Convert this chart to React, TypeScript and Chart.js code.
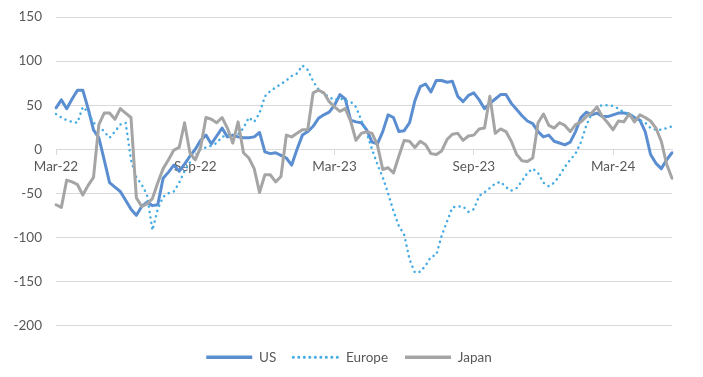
import React, { useEffect, useRef } from 'react';
import { Chart, registerables } from 'chart.js';

Chart.register(...registerables);

const tickLabels = ['Mar-22', 'Sep-22', 'Mar-23', 'Sep-23', 'Mar-24'];
const weeksPerTick = 26;

const us = [
  47, 56, 46, 57, 67, 67, 46, 22, 13, -12,
  -38, -43, -48, -58, -68, -75, -65, -60, -64, -63,
  -33, -26, -18, -25, -17, -8, 0, 10, 16, 6,
  15, 24, 14, 16, 14, 13, 13, 14, 19, -3,
  -5, -4, -7, -10, -18, 0, 16, 20, 26, 35,
  39, 42, 50, 62, 57, 33, 31, 30, 22, 8,
  6, 20, 39, 36, 20, 21, 30, 55, 71, 74,
  65, 78, 78, 76, 77, 60, 54, 61, 64, 56,
  46, 52, 57, 62, 62, 52, 45, 38, 32, 29,
  20, 14, 16, 9, 7, 5, 8, 20, 36, 42,
  39, 41, 37, 37, 39, 41, 41, 40, 36, 33,
  20, -6, -16, -22, -12, -4,
];

const europe = [
  40, 36, 33, 31, 30, 48, 42, 30, 26, 20,
  13, 20, 28, 30, -12, -32, -40, -52, -92, -68,
  -54, -50, -48, -38, -25, -15, -8, 0, 2, 4,
  7, 14, 16, 14, 17, 24, 36, 31, 41, 60,
  66, 70, 74, 78, 83, 86, 95, 90, 77, 68,
  63, 59, 56, 58, 55, 54, 48, 33, 18, 0,
  -17, -32, -50, -70, -87, -97, -125, -140, -139, -132,
  -122, -120, -98, -82, -66, -65, -65, -71, -68, -53,
  -49, -44, -39, -37, -43, -47, -44, -36, -27, -22,
  -27, -38, -42, -38, -30, -20, -12, -5, 8, 27,
  40, 48, 50, 50, 49, 46, 42, 40, 36, 33,
  30, 24, 22, 22, 24, 26,
];

const japan = [
  -63, -66, -35, -37, -40, -52, -41, -32, 28, 41,
  41, 34, 46, 41, 36, -55, -65, -62, -56, -38,
  -22, -12, -1, 2, 30, -4, -12, 2, 36, 34,
  30, 36, 24, 7, 31, -4, -10, -22, -49, -29,
  -29, -37, -31, 16, 14, 18, 22, 22, 64, 67,
  64, 54, 48, 43, 46, 32, 10, 18, 20, 18,
  5, -23, -21, -27, -8, 10, 9, 2, 9, 5,
  -5, -6, -2, 11, 17, 18, 10, 15, 16, 23,
  24, 60, 18, 23, 20, 9, -6, -13, -14, -10,
  30, 40, 27, 24, 30, 27, 20, 28, 31, 37,
  41, 48, 37, 30, 22, 32, 31, 40, 31, 39,
  36, 32, 24, 9, -17, -33,
];

const labels = us.map((_, i) =>
  i % weeksPerTick === 0 ? tickLabels[i / weeksPerTick] ?? '' : ''
);

const textColor = '#595959';
const gridColor = '#d9d9d9';
const font = { family: "Lato, 'Open Sans', sans-serif", size: 13.5 };

const legendShift = {
  id: 'legendShift',
  afterLayout(chart: any) {
    const lg = chart.legend;
    if (lg) {
      lg.left += 13;
      lg.right += 13;
    }
  },
};

export default function App() {
  const canvasRef = useRef<HTMLCanvasElement | null>(null);

  useEffect(() => {
    const canvas = canvasRef.current;
    if (!canvas) return;
    const chart = new Chart(canvas, {
      type: 'line',
      data: {
        labels,
        datasets: [
          {
            label: 'US',
            data: us,
            borderColor: '#5B8ED0',
            backgroundColor: '#5B8ED0',
            borderWidth: 3,
            pointRadius: 0,
            tension: 0,
            borderJoinStyle: 'round',
            borderCapStyle: 'round',
            order: 3,
          },
          {
            label: 'Europe',
            data: europe,
            borderColor: '#45ABE4',
            backgroundColor: '#45ABE4',
            borderWidth: 2.5,
            borderDash: [0.1, 5.4],
            borderCapStyle: 'round',
            pointRadius: 0,
            tension: 0,
            order: 2,
          },
          {
            label: 'Japan',
            data: japan,
            borderColor: '#A5A5A5',
            backgroundColor: '#A5A5A5',
            borderWidth: 3,
            pointRadius: 0,
            tension: 0,
            borderJoinStyle: 'round',
            borderCapStyle: 'round',
            order: 1,
          },
        ],
      },
      plugins: [legendShift],
      options: {
        animation: false,
        events: [],
        responsive: true,
        maintainAspectRatio: false,
        layout: { padding: { top: 17, right: 31, bottom: 3, left: 0 } },
        scales: {
          x: {
            type: 'category',
            position: { y: 0 },
            grid: { drawOnChartArea: false, drawTicks: true, tickLength: 5, color: gridColor },
            border: { display: true, color: gridColor, width: 1 },
            ticks: { autoSkip: false, maxRotation: 0, padding: 4, color: textColor, font },
            afterBuildTicks: (scale: any) => {
              scale.ticks = scale.ticks.filter((t: any) => labels[t.value] !== '');
            },
          },
          y: {
            min: -200,
            max: 150,
            ticks: { stepSize: 50, padding: 3, color: textColor, font },
            grid: { color: gridColor, drawTicks: true, tickLength: 11, tickColor: 'rgba(0,0,0,0)' },
            border: { display: false },
            afterFit: (scale: any) => {
              scale.width = 56;
            },
          },
        },
        plugins: {
          tooltip: { enabled: false },
          legend: {
            position: 'bottom',
            title: { display: true, text: '', font: { size: 5 }, padding: { top: 2, bottom: 0 } },
            labels: {
              usePointStyle: true,
              pointStyleWidth: 46,
              padding: 17,
              color: textColor,
              font,
              generateLabels: (ch: any) =>
                ch.data.datasets.map((ds: any, i: number) => ({
                  text: ds.label,
                  fillStyle: ds.borderColor,
                  strokeStyle: ds.borderColor,
                  lineWidth: ds.borderWidth + 0.5,
                  lineDash: ds.borderDash || [],
                  lineCap: ds.borderDash ? 'round' : 'butt',
                  pointStyle: 'line',
                  hidden: false,
                  datasetIndex: i,
                  fontColor: textColor,
                })),
            },
          },
        },
      },
    } as any);
    return () => chart.destroy();
  }, []);

  return (
    <div style={{ position: 'absolute', left: 0, top: 0, width: 703, height: 377 }}>
      <canvas ref={canvasRef} style={{ display: 'block' }} />
    </div>
  );
}
